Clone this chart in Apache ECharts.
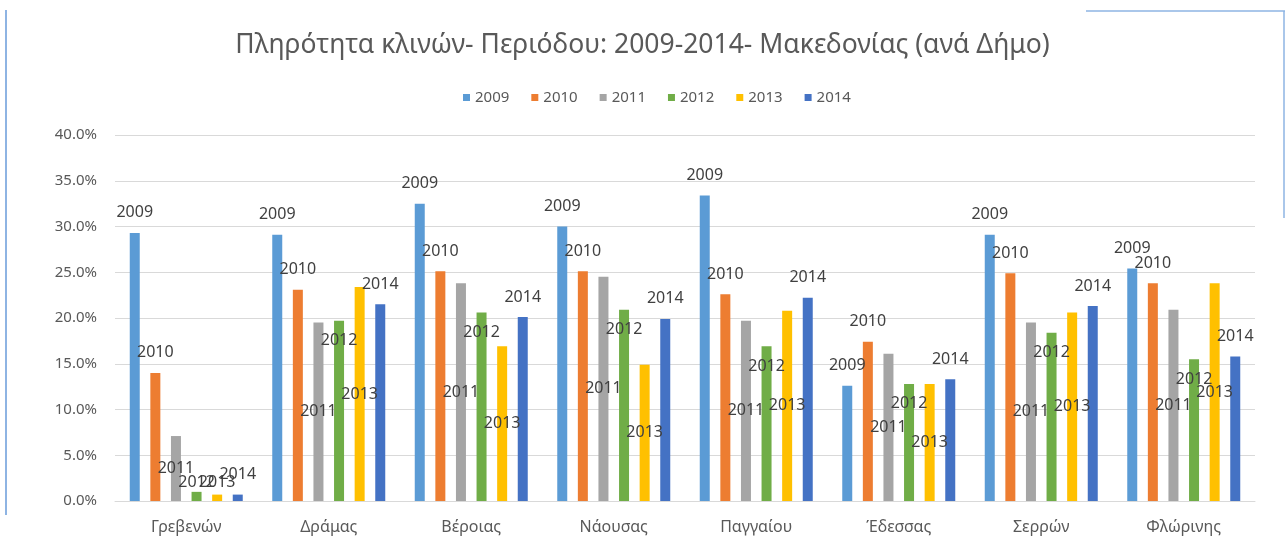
<!DOCTYPE html>
<html>
<head>
<meta charset="utf-8">
<script src="https://cdn.jsdelivr.net/npm/echarts@6/dist/echarts.min.js"></script>
<style>
  html, body { margin: 0; padding: 0; background: #fff; }
  #main { width: 1285px; height: 548px; }
</style>
</head>
<body>
<div id="main"></div>
<script>
// κατηγορίες (Δήμοι)
var dimoi = ['Γρεβενών', 'Δράμας', 'Βέροιας', 'Νάουσας', 'Παγγαίου', 'Έδεσσας', 'Σερρών', 'Φλώρινης'];
var years = ['2009', '2010', '2011', '2012', '2013', '2014'];

// πληρότητα (%) ανά έτος
var y2009 = [29.3, 29.1, 32.5, 30.0, 33.4, 12.6, 29.1, 25.4];
var y2010 = [14.0, 23.1, 25.1, 25.1, 22.6, 17.4, 24.9, 23.8];
var y2011 = [7.1, 19.5, 23.8, 24.5, 19.7, 16.1, 19.5, 20.9];
var y2012 = [1.0, 19.7, 20.6, 20.9, 16.9, 12.8, 18.4, 15.5];
var y2013 = [0.7, 23.4, 16.9, 14.9, 20.8, 12.8, 20.6, 23.8];
var y2014 = [0.7, 21.5, 20.1, 19.9, 22.2, 13.3, 21.3, 15.8];

var yTicks = [0, 5, 10, 15, 20, 25, 30, 35, 40];

var colors = ['#5B9BD5', '#ED7D31', '#A5A5A5', '#70AD47', '#FFC000', '#4472C4'];
var values = [y2009, y2010, y2011, y2012, y2013, y2014];
// θέση ετικέτας ανά σειρά (όπως στο excel)
var labelPos = ['top', 'top', 'inside', 'insideTop', 'inside', 'top'];

var chart = echarts.init(document.getElementById('main'));

var series = years.map(function (y, i) {
    return {
        name: y,
        type: 'bar',
        barWidth: 10,
        barGap: '106%',
        itemStyle: { color: colors[i] },
        label: {
            show: true,
            position: labelPos[i],
            distance: labelPos[i] === 'inside' ? 0 : 12,
            formatter: '{a}',
            color: '#404040',
            fontFamily: 'Noto Sans',
            fontSize: 16
        },
        data: values[i].map(function (v) {
            if (v < 2 && labelPos[i] !== 'top') {
                return { value: v, label: { position: 'insideBottom', distance: 11 } };
            }
            return v;
        })
    };
});

var option = {
    animation: false,
    textStyle: { fontFamily: 'Noto Sans' },
    title: {
        text: 'Πληρότητα κλινών- Περιόδου: 2009-2014- Μακεδονίας (ανά Δήμο)',
        left: 'center',
        top: 27,
        textStyle: { color: '#595959', fontSize: 26.5, fontWeight: 'normal', fontFamily: 'Noto Sans' }
    },
    legend: {
        data: years,
        top: 85,
        left: 458,
        icon: 'rect',
        itemWidth: 7,
        itemHeight: 7,
        itemGap: 22,
        textStyle: { color: '#595959', fontSize: 15 }
    },
    grid: {
        left: 115,
        right: 30,
        top: 135,
        bottom: 47
    },
    xAxis: {
        type: 'category',
        data: dimoi,
        axisTick: { show: false },
        axisLine: { lineStyle: { color: '#D9D9D9' } },
        axisLabel: { color: '#595959', fontSize: 16, margin: 18 }
    },
    yAxis: {
        type: 'value',
        min: yTicks[0],
        max: yTicks[yTicks.length - 1],
        interval: 5,
        axisLabel: {
            color: '#595959',
            fontSize: 15,
            margin: 18,
            formatter: function (v) { return v.toFixed(1) + '%'; }
        },
        splitLine: { lineStyle: { color: '#D9D9D9', width: 1 } }
    },
    graphic: [
        { type: 'line', shape: { x1: 6, y1: 10, x2: 6, y2: 515 }, style: { stroke: '#8EB4E3', lineWidth: 2 } },
        { type: 'line', shape: { x1: 1086, y1: 11, x2: 1285, y2: 11 }, style: { stroke: '#8EB4E3', lineWidth: 1.5 } },
        { type: 'line', shape: { x1: 1284, y1: 11, x2: 1284, y2: 218 }, style: { stroke: '#8EB4E3', lineWidth: 1.5 } }
    ],
    series: series
};

chart.setOption(option);
</script>
</body>
</html>
